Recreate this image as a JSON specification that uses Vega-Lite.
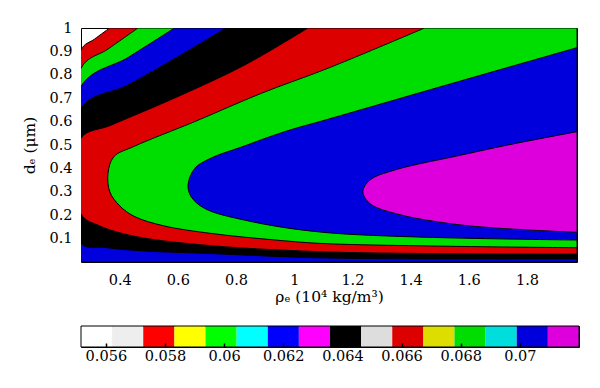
{
  "$schema": "https://vega.github.io/schema/vega-lite/v6.json",
  "padding": {"left": 22, "top": 19, "right": 10, "bottom": 5},
  "spacing": 19,
  "config": {
    "font": "DejaVu Serif",
    "view": {"stroke": "black", "strokeWidth": 1},
    "axis": {"labelFont": "DejaVu Serif", "titleFont": "DejaVu Serif", "labelColor": "black", "titleColor": "black", "labelFontSize": 14.5, "titleFontSize": 15.5, "titleFontWeight": "normal", "grid": false, "domain": false, "ticks": false}
  },
  "datasets": {
    "contours": [
      {"level": 1, "x": 0.267, "y": 0}, {"level": 1, "x": 0.267, "y": 0.906}, {"level": 1, "x": 0.314, "y": 0.953}, {"level": 1, "x": 0.366, "y": 1},
      {"level": 2, "x": 0.267, "y": 0}, {"level": 2, "x": 0.267, "y": 0.828}, {"level": 2, "x": 0.36, "y": 0.91}, {"level": 2, "x": 0.463, "y": 1},
      {"level": 3, "x": 0.267, "y": 0}, {"level": 3, "x": 0.267, "y": 0.749}, {"level": 3, "x": 0.43, "y": 0.875}, {"level": 3, "x": 0.589, "y": 1},
      {"level": 4, "x": 1.972, "y": 0.013}, {"level": 4, "x": 1.116, "y": 0.017}, {"level": 4, "x": 0.676, "y": 0.038}, {"level": 4, "x": 0.486, "y": 0.047}, {"level": 4, "x": 0.35, "y": 0.062}, {"level": 4, "x": 0.267, "y": 0.08}, {"level": 4, "x": 0.267, "y": 0.657}, {"level": 4, "x": 0.428, "y": 0.756}, {"level": 4, "x": 0.6, "y": 0.877}, {"level": 4, "x": 0.766, "y": 1},
      {"level": 5, "x": 1.972, "y": 0.034}, {"level": 5, "x": 1.116, "y": 0.043}, {"level": 5, "x": 0.676, "y": 0.074}, {"level": 5, "x": 0.447, "y": 0.111}, {"level": 5, "x": 0.332, "y": 0.154}, {"level": 5, "x": 0.267, "y": 0.205}, {"level": 5, "x": 0.267, "y": 0.529}, {"level": 5, "x": 0.371, "y": 0.585}, {"level": 5, "x": 0.6, "y": 0.707}, {"level": 5, "x": 0.83, "y": 0.842}, {"level": 5, "x": 1.047, "y": 1},
      {"level": 6, "x": 1.972, "y": 0.061}, {"level": 6, "x": 1.116, "y": 0.078}, {"level": 6, "x": 0.944, "y": 0.093}, {"level": 6, "x": 0.715, "y": 0.122}, {"level": 6, "x": 0.55, "y": 0.155}, {"level": 6, "x": 0.45, "y": 0.195}, {"level": 6, "x": 0.4, "y": 0.24}, {"level": 6, "x": 0.366, "y": 0.3}, {"level": 6, "x": 0.36, "y": 0.38}, {"level": 6, "x": 0.38, "y": 0.45}, {"level": 6, "x": 0.451, "y": 0.495}, {"level": 6, "x": 0.658, "y": 0.6}, {"level": 6, "x": 0.887, "y": 0.721}, {"level": 6, "x": 1.116, "y": 0.828}, {"level": 6, "x": 1.448, "y": 1},
      {"level": 7, "x": 1.972, "y": 0.094}, {"level": 7, "x": 1.116, "y": 0.125}, {"level": 7, "x": 0.829, "y": 0.179}, {"level": 7, "x": 0.692, "y": 0.229}, {"level": 7, "x": 0.645, "y": 0.28}, {"level": 7, "x": 0.635, "y": 0.33}, {"level": 7, "x": 0.658, "y": 0.4}, {"level": 7, "x": 0.714, "y": 0.444}, {"level": 7, "x": 0.818, "y": 0.491}, {"level": 7, "x": 0.967, "y": 0.557}, {"level": 7, "x": 1.116, "y": 0.61}, {"level": 7, "x": 1.545, "y": 0.764}, {"level": 7, "x": 1.972, "y": 0.916},
      {"level": 8, "x": 1.972, "y": 0.127}, {"level": 8, "x": 1.574, "y": 0.158}, {"level": 8, "x": 1.345, "y": 0.208}, {"level": 8, "x": 1.26, "y": 0.25}, {"level": 8, "x": 1.236, "y": 0.3}, {"level": 8, "x": 1.26, "y": 0.35}, {"level": 8, "x": 1.345, "y": 0.393}, {"level": 8, "x": 1.574, "y": 0.457}, {"level": 8, "x": 1.734, "y": 0.5}, {"level": 8, "x": 1.972, "y": 0.557}
    ],
    "bar": [
      {"bin": 0, "lo": 0.05516, "hi": 0.0562125}, {"bin": 1, "lo": 0.0562125, "hi": 0.057265}, {"bin": 2, "lo": 0.057265, "hi": 0.0583175}, {"bin": 3, "lo": 0.0583175, "hi": 0.05937},
      {"bin": 4, "lo": 0.05937, "hi": 0.0604225}, {"bin": 5, "lo": 0.0604225, "hi": 0.061475}, {"bin": 6, "lo": 0.061475, "hi": 0.0625275}, {"bin": 7, "lo": 0.0625275, "hi": 0.06358},
      {"bin": 8, "lo": 0.06358, "hi": 0.0646325}, {"bin": 9, "lo": 0.0646325, "hi": 0.065685}, {"bin": 10, "lo": 0.065685, "hi": 0.0667375}, {"bin": 11, "lo": 0.0667375, "hi": 0.06779},
      {"bin": 12, "lo": 0.06779, "hi": 0.0688425}, {"bin": 13, "lo": 0.0688425, "hi": 0.069895}, {"bin": 14, "lo": 0.069895, "hi": 0.0709475}, {"bin": 15, "lo": 0.0709475, "hi": 0.072}
    ]
  },
  "vconcat": [
    {
      "width": 496,
      "height": 234,
      "data": {"name": "contours"},
      "encoding": {
        "x": {"field": "x", "type": "quantitative", "scale": {"domain": [0.267, 1.972], "nice": false, "zero": false},
              "axis": {"values": [0.4, 0.6, 0.8, 1, 1.2, 1.4, 1.6, 1.8], "format": "~g", "labelPadding": 11, "titlePadding": 3, "title": "ρₑ (10⁴ kg/m³)"}},
        "x2": {"datum": 1.972},
        "y": {"field": "y", "type": "quantitative", "scale": {"domain": [0, 1], "nice": false, "zero": false},
              "axis": {"values": [0.1, 0.2, 0.3, 0.4, 0.5, 0.6, 0.7, 0.8, 0.9, 1], "format": "~g", "labelPadding": 9, "titlePadding": 11, "title": "dₑ (μm)"}}
      },
      "layer": [
        {"transform": [{"filter": "datum.level == 1"}], "mark": {"type": "area", "orient": "horizontal", "interpolate": "catmull-rom", "clip": true, "fill": "#dd0000", "stroke": "black", "strokeWidth": 1}},
        {"transform": [{"filter": "datum.level == 2"}], "mark": {"type": "area", "orient": "horizontal", "interpolate": "catmull-rom", "clip": true, "fill": "#00dd00", "stroke": "black", "strokeWidth": 1}},
        {"transform": [{"filter": "datum.level == 3"}], "mark": {"type": "area", "orient": "horizontal", "interpolate": "catmull-rom", "clip": true, "fill": "#0000dd", "stroke": "black", "strokeWidth": 1}},
        {"transform": [{"filter": "datum.level == 4"}], "mark": {"type": "area", "orient": "horizontal", "interpolate": "catmull-rom", "clip": true, "fill": "#000000", "stroke": "black", "strokeWidth": 1}},
        {"transform": [{"filter": "datum.level == 5"}], "mark": {"type": "area", "orient": "horizontal", "interpolate": "catmull-rom", "clip": true, "fill": "#dd0000", "stroke": "black", "strokeWidth": 1}},
        {"transform": [{"filter": "datum.level == 6"}], "mark": {"type": "area", "orient": "horizontal", "interpolate": "catmull-rom", "clip": true, "fill": "#00dd00", "stroke": "black", "strokeWidth": 1}},
        {"transform": [{"filter": "datum.level == 7"}], "mark": {"type": "area", "orient": "horizontal", "interpolate": "catmull-rom", "clip": true, "fill": "#0000dd", "stroke": "black", "strokeWidth": 1}},
        {"transform": [{"filter": "datum.level == 8"}], "mark": {"type": "area", "orient": "horizontal", "interpolate": "catmull-rom", "clip": true, "fill": "#dd00dd", "stroke": "black", "strokeWidth": 1}}
      ]
    },
    {
      "width": 498,
      "height": 21,
      "layer": [
        {
          "data": {"name": "bar"},
          "mark": {"type": "rect"},
          "encoding": {
            "x": {"field": "lo", "type": "quantitative", "scale": {"domain": [0.05516, 0.072], "nice": false, "zero": false},
                  "axis": {"orient": "bottom", "values": [0.056, 0.058, 0.06, 0.062, 0.064, 0.066, 0.068, 0.07], "format": "~g", "title": null, "ticks": true, "tickSize": 4, "offset": -4, "tickColor": "black", "tickWidth": 1.5, "labelPadding": 2, "zindex": 1}},
            "x2": {"field": "hi"},
            "color": {"field": "bin", "type": "ordinal", "legend": null,
                      "scale": {"domain": [0, 1, 2, 3, 4, 5, 6, 7, 8, 9, 10, 11, 12, 13, 14, 15],
                                "range": ["#ffffff", "#eeeeee", "#ff0000", "#ffff00", "#00ff00", "#00ffff", "#0000ff", "#ff00ff", "#000000", "#dddddd", "#dd0000", "#dddd00", "#00dd00", "#00dddd", "#0000dd", "#dd00dd"]}}
          }
        },
        {
          "data": {"values": [{}]},
          "mark": {"type": "rect", "fill": null, "fillOpacity": 0, "stroke": "black", "strokeWidth": 1},
          "encoding": {
            "x": {"datum": 0.05516, "type": "quantitative"},
            "x2": {"datum": 0.072}
          }
        }
      ]
    }
  ]
}
